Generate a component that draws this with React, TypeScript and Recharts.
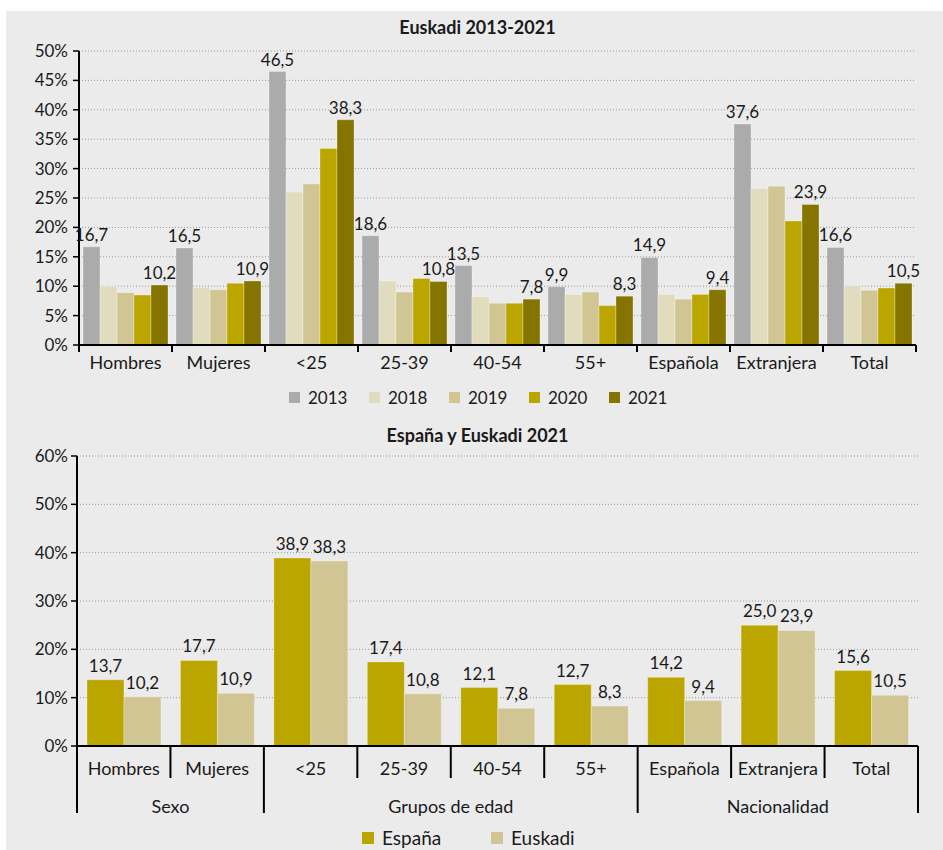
import React from 'react';
import { BarChart, Bar, XAxis, YAxis, CartesianGrid, Legend, LabelList } from 'recharts';

const categories = ['Hombres', 'Mujeres', '<25', '25-39', '40-54', '55+', 'Española', 'Extranjera', 'Total'];
const years = ['2013', '2018', '2019', '2020', '2021'];
const v2013 = [16.7, 16.5, 46.5, 18.6, 13.5, 9.9, 14.9, 37.6, 16.6];
const v2018 = [10.0, 9.8, 26.0, 10.9, 8.2, 8.6, 8.6, 26.6, 10.1];
const v2019 = [8.9, 9.4, 27.4, 9.0, 7.1, 9.0, 7.8, 27.0, 9.3];
const v2020 = [8.5, 10.5, 33.4, 11.3, 7.1, 6.7, 8.6, 21.1, 9.7];
const v2021 = [10.2, 10.9, 38.3, 10.8, 7.8, 8.3, 9.4, 23.9, 10.5];
const espana2021 = [13.7, 17.7, 38.9, 17.4, 12.1, 12.7, 14.2, 25.0, 15.6];
const euskadi2021 = [10.2, 10.9, 38.3, 10.8, 7.8, 8.3, 9.4, 23.9, 10.5];
const groupNames = ['Sexo', 'Grupos de edad', 'Nacionalidad'];
const groupSizes = [2, 4, 3];
const topTicks = [0, 5, 10, 15, 20, 25, 30, 35, 40, 45, 50];
const bottomTicks = [0, 10, 20, 30, 40, 50, 60];

const yearColors = ['#ababab', '#e1dcbe', '#d1c693', '#bba600', '#857400'];
const ESP = '#bba600';
const EUS = '#d1c693';
const TXT = '#1a1a1a';

const topData = categories.map((c, i) => ({
  cat: c,
  y2013: v2013[i],
  y2018: v2018[i],
  y2019: v2019[i],
  y2020: v2020[i],
  y2021: v2021[i],
}));
const bottomData = categories.map((c, i) => ({ cat: c, espana: espana2021[i], euskadi: euskadi2021[i] }));

const fmt = (v: any) => Number(v).toFixed(1).replace('.', ',');
const pct = (v: any) => `${v}%`;

const W = 943;
const topMargin = { top: 51, right: 27, left: 19, bottom: 30 };
const topYW = 60;
const TOP_BW = (W - topMargin.left - topYW - topMargin.right) / categories.length;

const botMargin = { top: 36, right: 25, left: 17, bottom: 14 };
const botYW = 60;
const BOT_BW = (W - botMargin.left - botYW - botMargin.right) / categories.length;

// group start indexes for the two-level axis
const groupStarts: number[] = [];
groupSizes.reduce((acc, s) => {
  groupStarts.push(acc);
  return acc + s;
}, 0);

const TopTick = (props: any) => {
  const { x, y, payload, index } = props;
  const h = TOP_BW / 2;
  return (
    <g>
      <line x1={x - h} x2={x - h} y1={y} y2={y + 7} stroke="#000" strokeWidth={2} />
      {index === categories.length - 1 && (
        <line x1={x + h} x2={x + h} y1={y} y2={y + 7} stroke="#000" strokeWidth={2} />
      )}
      <text x={x} y={y + 24} textAnchor="middle" fontSize={18} fill={TXT}>
        {payload.value}
      </text>
    </g>
  );
};

const BottomTick = (props: any) => {
  const { x, y, payload, index } = props;
  const h = BOT_BW / 2;
  const isStart = groupStarts.includes(index);
  const g = groupStarts.findIndex((s, k) => index >= s && index < s + groupSizes[k]);
  const gStart = groupStarts[g];
  const gSize = groupSizes[g];
  const mid = gStart + Math.floor(gSize / 2);
  const showGroup = index === mid;
  const gx = gSize % 2 === 0 ? x - h : x;
  return (
    <g>
      <line x1={x - h} x2={x - h} y1={y} y2={y + (isStart ? 67 : 32)} stroke="#000" strokeWidth={2} />
      {index === categories.length - 1 && (
        <line x1={x + h} x2={x + h} y1={y} y2={y + 67} stroke="#000" strokeWidth={2} />
      )}
      <text x={x} y={y + 29} textAnchor="middle" fontSize={18} fill={TXT}>
        {payload.value}
      </text>
      {showGroup && (
        <text x={gx} y={y + 67} textAnchor="middle" fontSize={18} fill={TXT}>
          {groupNames[g]}
        </text>
      )}
    </g>
  );
};

const makeLegend = (itemW: number, box: number, fontSize: number) => (props: any) => {
  const { payload } = props;
  return (
    <div style={{ display: 'flex', alignItems: 'center' }}>
      {(payload || []).map((p: any) => (
        <div key={p.value} style={{ width: itemW, display: 'flex', alignItems: 'center', fontSize, color: TXT }}>
          <span style={{ width: box, height: box, background: p.color, marginRight: 8, display: 'inline-block' }} />
          <span>{p.value}</span>
        </div>
      ))}
    </div>
  );
};

const barStroke = 'rgba(255,255,255,0.3)';

export default function App() {
  return (
    <div
      style={{
        position: 'absolute',
        left: 0,
        top: 0,
        width: W,
        height: 850,
        background: '#fff',
        overflow: 'hidden',
        fontFamily: 'Lato, sans-serif',
        color: TXT,
      }}
    >
      <div style={{ position: 'absolute', left: 6, top: 11, right: 0, bottom: 0, background: '#ebebeb' }} />

      <div style={{ position: 'absolute', left: 0, top: 16, width: W, textAlign: 'center', paddingLeft: 12, boxSizing: 'border-box', fontWeight: 700, fontSize: 18 }}>
        Euskadi 2013-2021
      </div>
      <div style={{ position: 'absolute', left: 0, top: 0 }}>
        <BarChart width={W} height={415} data={topData} margin={topMargin} barGap={0} barCategoryGap={4}>
          <CartesianGrid vertical={false} stroke="#9a9a9a" strokeDasharray="1 2" />
          <XAxis
            dataKey="cat"
            interval={0}
            tickLine={false}
            tickSize={0}
            tickMargin={0}
            height={40}
            axisLine={{ stroke: '#000', strokeWidth: 2 }}
            tick={<TopTick />}
          />
          <YAxis
            width={topYW}
            domain={[0, 50]}
            ticks={topTicks}
            tickFormatter={pct}
            tickSize={6}
            tickMargin={5}
            axisLine={{ stroke: '#000', strokeWidth: 2 }}
            tickLine={{ stroke: '#000', strokeWidth: 1.5 }}
            tick={{ fontSize: 17, fill: TXT }}
          />
          <Legend
            layout="horizontal"
            verticalAlign="middle"
            align="center"
            wrapperStyle={{ top: 387, left: 289, width: 420, height: 20 }}
            content={makeLegend(80, 11, 17)}
          />
          {years.map((yr, k) => (
            <Bar key={yr} dataKey={`y${yr}`} name={yr} fill={yearColors[k]} stroke={barStroke} strokeWidth={1} isAnimationActive={false}>
              {(k === 0 || k === years.length - 1) && (
                <LabelList dataKey={`y${yr}`} position="top" offset={6} formatter={fmt} style={{ fontSize: 17, fill: TXT }} />
              )}
            </Bar>
          ))}
        </BarChart>
      </div>

      <div style={{ position: 'absolute', left: 0, top: 424, width: W, textAlign: 'center', paddingLeft: 12, boxSizing: 'border-box', fontWeight: 700, fontSize: 18 }}>
        España y Euskadi 2021
      </div>
      <div style={{ position: 'absolute', left: 0, top: 420 }}>
        <BarChart width={W} height={430} data={bottomData} margin={botMargin} barGap={0} barCategoryGap={10}>
          <CartesianGrid vertical={false} stroke="#9a9a9a" strokeDasharray="1 2" />
          <XAxis
            dataKey="cat"
            interval={0}
            tickLine={false}
            tickSize={0}
            tickMargin={0}
            height={90}
            axisLine={{ stroke: '#000', strokeWidth: 2 }}
            tick={<BottomTick />}
          />
          <YAxis
            width={botYW}
            domain={[0, 60]}
            ticks={bottomTicks}
            tickFormatter={pct}
            tickSize={6}
            tickMargin={3}
            axisLine={{ stroke: '#000', strokeWidth: 2 }}
            tickLine={{ stroke: '#000', strokeWidth: 1.5 }}
            tick={{ fontSize: 17, fill: TXT }}
          />
          <Legend
            layout="horizontal"
            verticalAlign="middle"
            align="center"
            wrapperStyle={{ top: 406, left: 362, width: 300, height: 24 }}
            content={makeLegend(129, 12, 19)}
          />
          <Bar dataKey="espana" name="España" fill={ESP} stroke={barStroke} strokeWidth={1} isAnimationActive={false}>
            <LabelList dataKey="espana" position="top" offset={8} formatter={fmt} style={{ fontSize: 17, fill: TXT }} />
          </Bar>
          <Bar dataKey="euskadi" name="Euskadi" fill={EUS} stroke={barStroke} strokeWidth={1} isAnimationActive={false}>
            <LabelList dataKey="euskadi" position="top" offset={8} formatter={fmt} style={{ fontSize: 17, fill: TXT }} />
          </Bar>
        </BarChart>
      </div>
    </div>
  );
}
